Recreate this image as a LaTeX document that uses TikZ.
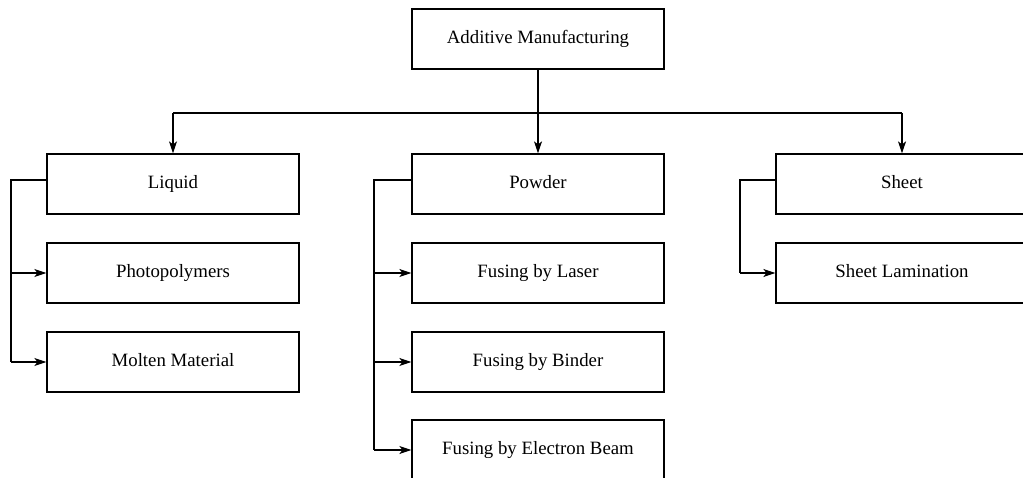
\documentclass[tikz,border=0pt]{standalone}
\usepackage{fontspec}
\setmainfont{Liberation Serif}
\usetikzlibrary{arrows.meta}
\begin{document}
\begin{tikzpicture}[x=1pt,y=-1pt,
  box/.style={draw,line width=1.2pt,minimum width=252pt,minimum height=60pt,inner sep=0pt,text height=13pt,text depth=4pt,font=\fontsize{18.8}{22}\selectfont},
  conn/.style={line width=1.2pt},
  arr/.style={conn,-{Stealth[length=12pt,width=8pt,inset=3pt]}}]
\useasboundingbox (0,0) rectangle (1023,478);
\node[box] (am) at (538,39) {Additive Manufacturing};
\node[box] (liq) at (173,184) {Liquid};
\node[box] (photo) at (173,273) {Photopolymers};
\node[box] (molten) at (173,362) {Molten Material};
\node[box] (pow) at (538,184) {Powder};
\node[box] (laser) at (538,273) {Fusing by Laser};
\node[box] (binder) at (538,362) {Fusing by Binder};
\node[box] (ebeam) at (538,450) {Fusing by Electron Beam};
\node[box] (sheet) at (902,184) {Sheet};
\node[box] (lam) at (902,273) {Sheet Lamination};
\coordinate (bus) at (538,113);
\draw[conn] (am.south) -- (bus);
\draw[conn] (liq.north |- bus) -- (sheet.north |- bus);
\draw[arr] (liq.north |- bus) -- (liq.north);
\draw[arr] (bus) -- (pow.north);
\draw[arr] (sheet.north |- bus) -- (sheet.north);
% Liquid bracket
\coordinate (lx) at (11,180);
\draw[conn] (liq.west |- lx) -- (lx) -- (lx |- molten.west);
\draw[arr] (lx |- photo.west) -- (photo.west);
\draw[arr] (lx |- molten.west) -- (molten.west);
% Powder bracket
\coordinate (px) at (374,180);
\draw[conn] (pow.west |- px) -- (px) -- (px |- ebeam.west);
\draw[arr] (px |- laser.west) -- (laser.west);
\draw[arr] (px |- binder.west) -- (binder.west);
\draw[arr] (px |- ebeam.west) -- (ebeam.west);
% Sheet bracket
\coordinate (sx) at (740,180);
\draw[conn] (sheet.west |- sx) -- (sx) -- (sx |- lam.west);
\draw[arr] (sx |- lam.west) -- (lam.west);
\end{tikzpicture}
\end{document}
